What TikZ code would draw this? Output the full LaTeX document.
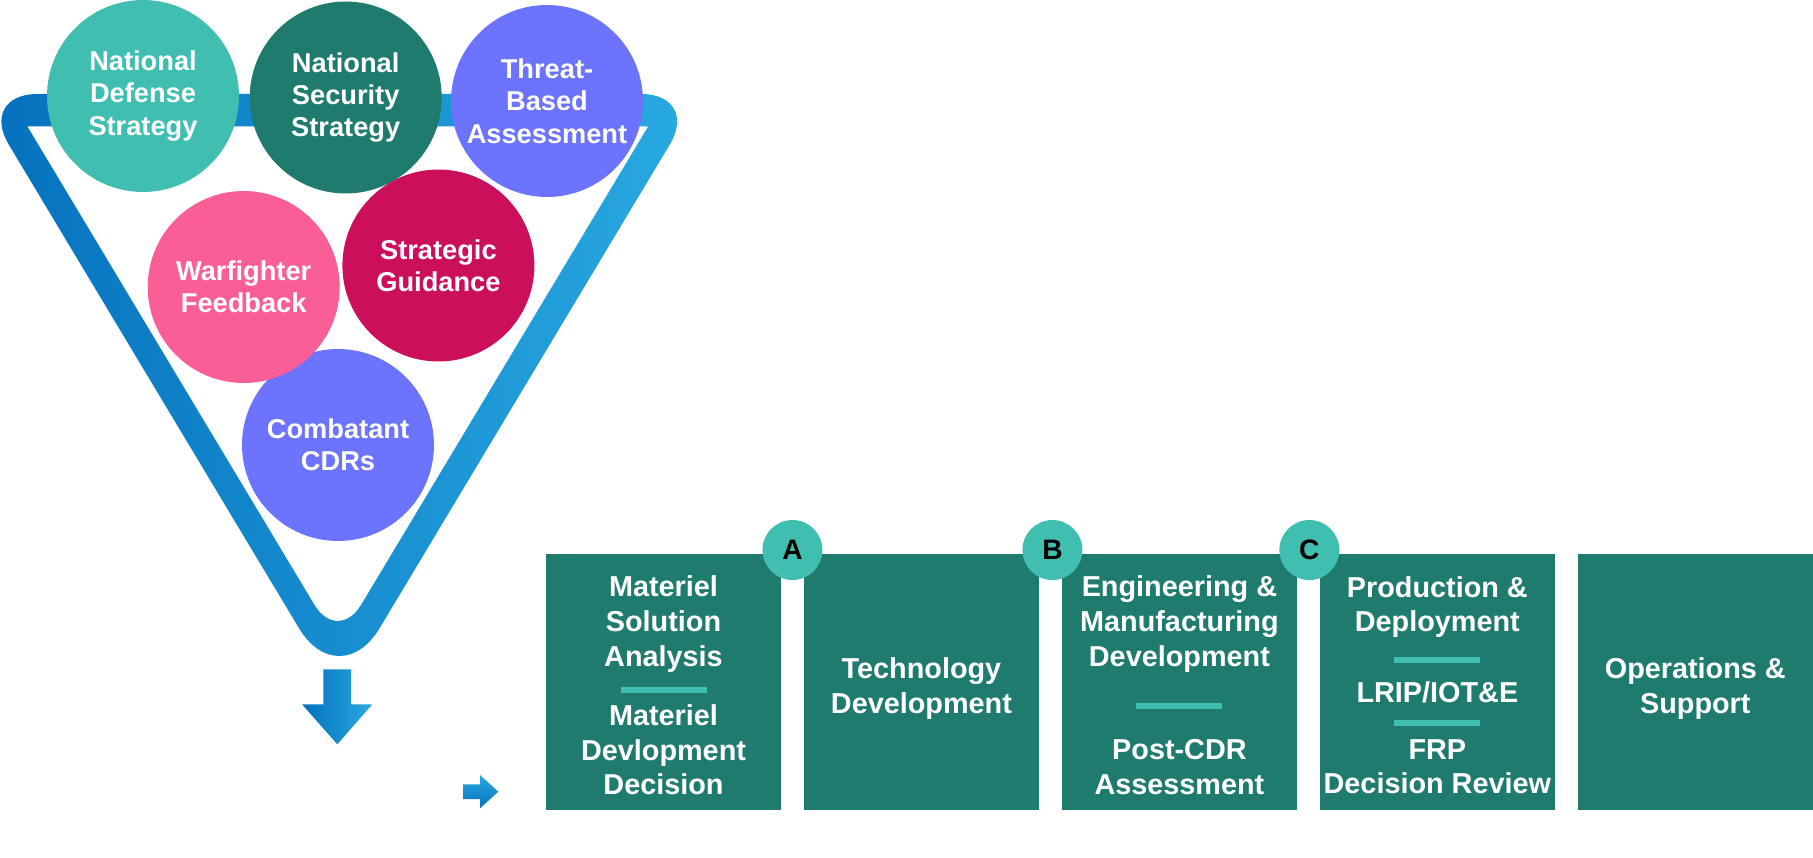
\documentclass[tikz,border=0pt]{standalone}
\usepackage{fontspec}
\setmainfont{Liberation Sans}
\usetikzlibrary{positioning,calc}
\definecolor{ballteal}{RGB}{64,190,176}
\definecolor{phasegreen}{RGB}{30,123,109}
\definecolor{ballviolet}{RGB}{107,115,255}
\definecolor{ballpink}{RGB}{249,95,150}
\definecolor{ballcrimson}{RGB}{204,15,91}
\definecolor{funneldark}{RGB}{5,112,190}
\definecolor{funnellight}{RGB}{41,170,225}

\begin{document}
\begin{tikzpicture}[x=0.02cm, y=-0.02cm, node distance=0.46cm, ball/.style={circle, minimum size=3.84cm, inner sep=0pt, text=white, align=center, font=\bfseries\fontsize{15.5}{18.4}\selectfont}, phase/.style={rectangle, fill=phasegreen, minimum width=4.7cm, minimum height=5.13cm, inner sep=0pt, outer sep=0pt}, phasetext/.style={text=white, align=center, inner sep=0pt, font=\bfseries\fontsize{16.4}{19.7}\selectfont}, milestone/.style={circle, fill=ballteal, minimum size=1.2cm, inner sep=0pt, font=\bfseries\fontsize{16}{16}\selectfont}, bar/.style={ballteal, line width=0.12cm}]
	\useasboundingbox (0,0) rectangle (1813,858);
	% funnel
	\shade[left color=funneldark, right color=funnellight, even odd rule]
		[rounded corners=1.18cm] (339.3,94) -- (700.1,94) [rounded corners=1.57cm] -- (339.3,695.4) [rounded corners=1.18cm] -- (-21.6,94) -- cycle
		[sharp corners] (337.75,126.5) -- (648.1,126.5) [rounded corners=0.91cm] -- (337.75,643.75) [sharp corners] -- (27.4,126.5) -- cycle;
	\shade[left color=funneldark, right color=funnellight] (323.3,669.3) -- (351,669.3) -- (351,704.3) -- (372.3,704.3) -- (337.3,744.3) -- (302,704.3) -- (323.3,704.3) -- cycle;
	\shade[top color=funnellight, bottom color=funneldark] (463,784.3) -- (480,784.3) -- (480,775) -- (498.3,791.7) -- (480,808.3) -- (480,799) -- (463,799) -- cycle;
	% inputs
	\node[ball, fill=ballteal] (NDS) at (143,96) {National\\Defense\\Strategy};
	\node[ball, fill=phasegreen] (NSS) at (345.7,97.5) {National\\Security\\Strategy};
	\node[ball, fill=ballviolet] (TBA) at (547,101) {Threat-\\Based\\Assessment};
	\node[ball, fill=ballcrimson] (SG) at (438.4,265.5) {Strategic\\Guidance};
	\node[ball, fill=ballviolet] (CC) at (338,445) {Combatant\\CDRs};
	\node[ball, fill=ballpink] (WF) at (243.7,287) {Warfighter\\Feedback};
	% phases
	\node[phase] (P1) at (663.5,681.75) {};
	\node[phase] (P2) [right = of P1] {};
	\node[phase] (P3) [right = of P2] {};
	\node[phase] (P4) [right = of P3] {};
	\node[phase] (P5) [right = of P4] {};
	\node[phasetext] (P1a) at ($(P1.north)+(0,70.5)$) {Materiel\\Solution\\Analysis};
	\draw[bar] ($(P1.north)+(-43,136.5)$) -- ++(86,0);
	\node[phasetext] (P1b) at ($(P1.north)+(0,196.5)$) {Materiel\\Devlopment\\Decision};
	\node[phasetext] (P2a) at ($(P2.center)+(0,7)$) {Technology\\Development};
	\node[phasetext] (P3a) at ($(P3.north)+(0,70.5)$) {Engineering \&\\Manufacturing\\Development};
	\draw[bar] ($(P3.north)+(-43,152.5)$) -- ++(86,0);
	\node[phasetext] (P3b) at ($(P3.north)+(0,213.3)$) {Post-CDR\\Assessment};
	\node[phasetext] (P4a) at ($(P4.north)+(0,53.5)$) {Production \&\\Deployment};
	\draw[bar] ($(P4.north)+(-43,106.5)$) -- ++(86,0);
	\node[phasetext] (P4b) at ($(P4.north)+(0,138.5)$) {LRIP/IOT\&E};
	\draw[bar] ($(P4.north)+(-43,169.5)$) -- ++(86,0);
	\node[phasetext] (P4c) at ($(P4.north)+(0,213.3)$) {FRP\\Decision Review};
	\node[phasetext] (P5a) at ($(P5.center)+(0,7)$) {Operations \&\\Support};
	% milestones
	\node[milestone] (A) at ($(P1.north east)!0.5!(P2.north west)+(0,-3.5)$) {A};
	\node[milestone] (B) at ($(P2.north east)!0.5!(P3.north west)+(2,-3.5)$) {B};
	\node[milestone] (C) at ($(P3.north east)!0.5!(P4.north west)+(1,-3.5)$) {C};
\end{tikzpicture}
\end{document}
